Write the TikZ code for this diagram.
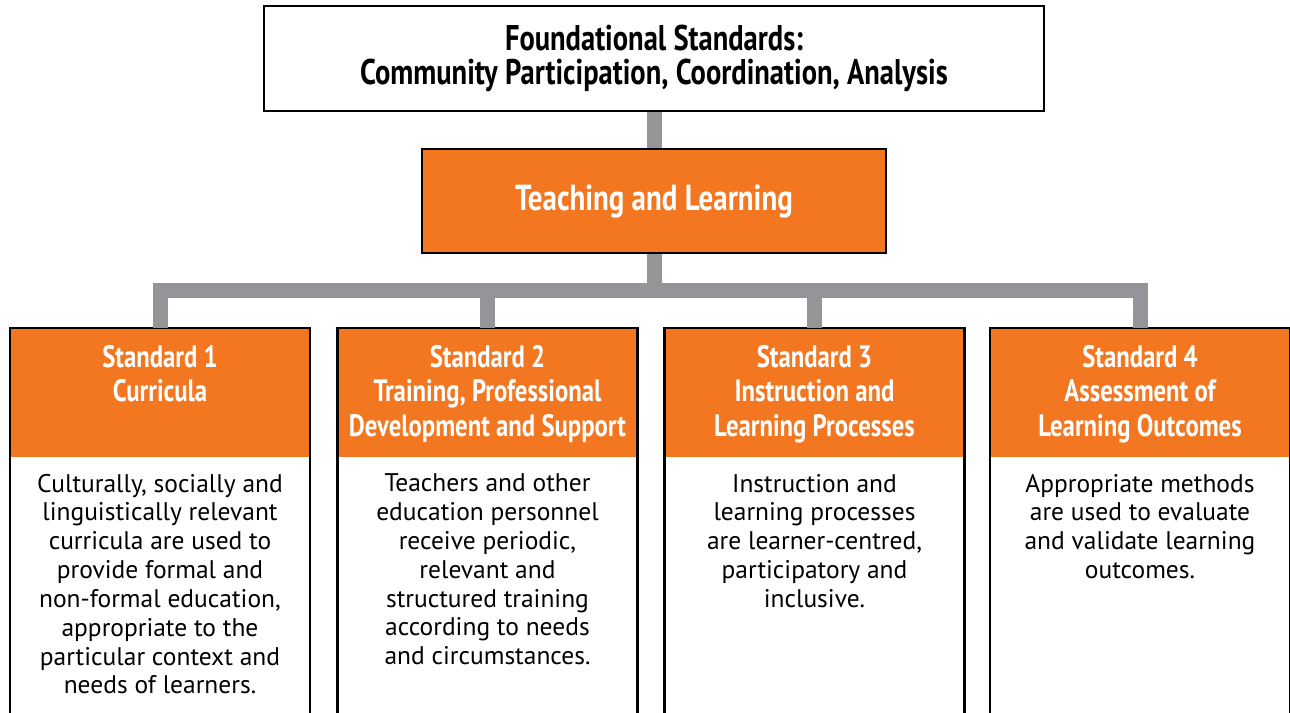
\documentclass[tikz,border=0pt]{standalone}
\usepackage{fontspec}
\setmainfont{PT Sans}
\newfontfamily\condfont[FakeStretch=0.8]{PT Sans}
\usetikzlibrary{positioning,fit}
\definecolor{stdOrange}{HTML}{F37721}
\definecolor{barGray}{HTML}{939598}
\newcommand{\toptext}[2]{\parbox[c][#1][t]{5.8cm}{\centering #2}}

\begin{document}
\begin{tikzpicture}[
    conn/.style={line width=0.3cm, draw=barGray},
    box/.style={
        rectangle,
        draw=black,
        line width=1.3pt,
        align=center,
        font=\condfont\bfseries\fontsize{20.3}{19.8}\selectfont,
      },
    head/.style={
        rectangle,
        fill=stdOrange,
        text=white,
        minimum width=6cm,
        minimum height=2.58cm,
        inner xsep=0.1cm,
        inner ysep=0.34cm,
        outer sep=0,
        font=\condfont\bfseries\fontsize{17.6}{19.8}\selectfont,
      },
    body/.style={
        rectangle,
        minimum width=6cm,
        minimum height=6cm,
        inner xsep=0.1cm,
        inner ysep=0.34cm,
        outer sep=0,
        font=\fontsize{14.5}{16.4}\selectfont,
      },
    frame/.style={draw=black, line width=1.3pt, inner sep=0},
  ]
  \path[use as bounding box, clip] (0,0) rectangle (25.8,-14.26);

  \node[box, minimum width=15.6cm, minimum height=2.1cm] (found) at (13.08,-1.17)
    {Foundational Standards:\\Community Participation, Coordination, Analysis};
  \node[box, fill=stdOrange, text=white, minimum width=9.28cm, minimum height=2.08cm,
    font=\condfont\bfseries\fontsize{20.6}{24}\selectfont] (teach) at (13.08,-4.02) {Teaching and Learning};

  \node[head] (hd1) at (3.2,-7.85) {\toptext{1.9cm}{Standard 1\\Curricula}};
  \node[body, below=0pt of hd1] (bd1) {\toptext{5.32cm}{Culturally, socially and\\linguistically relevant\\curricula are used to\\provide formal and\\non-formal education,\\appropriate to the\\particular context and\\needs of learners.}};
  \node[frame, fit=(hd1)(bd1)] (std1) {};

  \node[head] (hd2) at (9.75,-7.85) {\toptext{1.9cm}{Standard 2\\Training, Professional\\Development and Support}};
  \node[body, below=0pt of hd2] (bd2) {\toptext{5.32cm}{Teachers and other\\education personnel\\receive periodic,\\relevant and\\structured training\\according to needs\\and circumstances.}};
  \node[frame, fit=(hd2)(bd2)] (std2) {};

  \node[head] (hd3) at (16.29,-7.85) {\toptext{1.9cm}{Standard 3\\Instruction and\\Learning Processes}};
  \node[body, below=0pt of hd3] (bd3) {\toptext{5.32cm}{Instruction and\\learning processes\\are learner-centred,\\participatory and\\inclusive.}};
  \node[frame, fit=(hd3)(bd3)] (std3) {};

  \node[head] (hd4) at (22.8,-7.85) {\toptext{1.9cm}{Standard 4\\Assessment of\\Learning Outcomes}};
  \node[body, below=0pt of hd4] (bd4) {\toptext{5.32cm}{Appropriate methods\\are used to evaluate\\and validate learning\\outcomes.}};
  \node[frame, fit=(hd4)(bd4)] (std4) {};

  % grey tree
  \draw[conn] (found) -- (teach);
  \draw[conn] (teach.south) -- ++(0,-0.72) -| (hd1.north);
  \draw[conn] (teach.south) -- ++(0,-0.72) -| (hd2.north);
  \draw[conn] (teach.south) -- ++(0,-0.72) -| (hd3.north);
  \draw[conn] (teach.south) -- ++(0,-0.72) -| (hd4.north);
\end{tikzpicture}
\end{document}
